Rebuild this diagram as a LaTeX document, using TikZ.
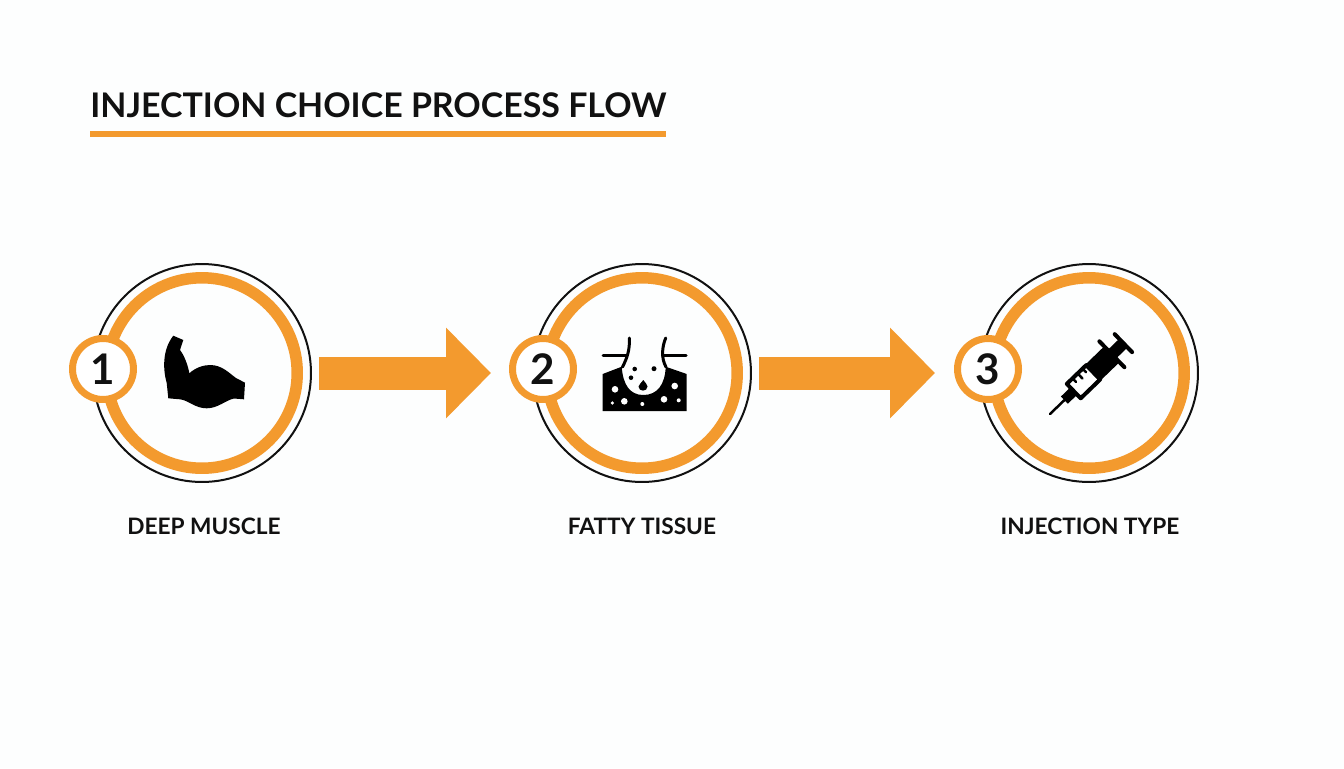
\documentclass[tikz,border=0pt]{standalone}
\usepackage{fontspec}
\setmainfont{Lato}
\usepackage{xcolor}
\usetikzlibrary{arrows.meta}
\usetikzlibrary{positioning}
\definecolor{flowor}{HTML}{F39A2E}
\definecolor{ink}{HTML}{111111}
\tikzset{
  outerring/.style={circle,draw=ink,line width=0.04cm,minimum size=4.36cm,inner sep=0pt},
  bandring/.style={circle,draw=flowor,line width=0.23cm,minimum size=3.81cm,inner sep=0pt},
  badge/.style={circle,draw=flowor,fill=white,line width=0.14cm,minimum size=1.22cm,inner sep=0pt,text=ink,font=\fontsize{24}{24}\selectfont\bfseries},
  caption/.style={text=ink,font=\fontsize{12.9}{13}\selectfont\bfseries},
  flowarrow/.style={draw=flowor,line width=0.66cm,line cap=butt,-{Triangle[length=0.9cm,width=1.76cm,fill=flowor]}},
  icon/.style={fill=black,draw=none},
  hair/.style={draw=black,line width=0.06cm,line cap=round}
}
\begin{document}
\begin{tikzpicture}[line cap=round,line join=round,x=0.02cm,y=-0.02cm]
\useasboundingbox (0,0) rectangle (1344,768);
\fill[color={rgb,255:red,253;green,254;blue,254}] (0,0) rectangle (1344,768);
% title
\node[anchor=west,inner sep=0pt,text=ink,font=\fontsize{19.3}{20}\selectfont\bfseries] (title) at (90,105) {INJECTION CHOICE PROCESS FLOW};
\fill[color=flowor] (90,130.5) rectangle (665.5,136.5);
% circles
\node[outerring] (ringa) at (202,373) {};
\node[outerring] (ringb) at (642,373) {};
\node[outerring] (ringc) at (1089,373) {};
\node[bandring] (banda) at (202,373) {};
\node[bandring] (bandb) at (642,373) {};
\node[bandring] (bandc) at (1089,373) {};
\node[badge] (numa) at (103,369) {1};
\node[badge] (numb) at (543,369) {2};
\node[badge] (numc) at (988,369) {3};
% arrows
\draw[flowarrow,yshift=-0.02cm,shorten <=0.14cm,shorten >=0.36cm] (ringa.east) -- (ringa.east -| numb.west);
\draw[flowarrow,yshift=-0.02cm,shorten <=0.14cm,shorten >=0.38cm] (ringb.east) -- (ringb.east -| numc.west);
% captions
\node[caption] (capa) at (204,526) {DEEP MUSCLE};
\node[caption] (capb) at (642,526) {FATTY TISSUE};
\node[caption] (capc) at (1090,526) {INJECTION TYPE};
% muscle
\fill[icon] (173.3,335.7) -- (183.3,340) -- (180,350) .. controls (184,355) and (188,365) .. (189.3,373.3)
  .. controls (195,368) and (203,365) .. (210,365) .. controls (222,365) and (229,373) .. (236,378)
  -- (245,382.7) -- (244,399.3) -- (234,398.5) .. controls (226,400) and (218,408.3) .. (206.7,408.3)
  .. controls (195,408.3) and (188,400) .. (180,399.3) -- (168.3,398.3) -- (166.7,383)
  .. controls (163,370) and (162,350) .. cycle;
% fatty tissue
\fill[icon] (602.7,374) -- (621.7,366.7) .. controls (623,385) and (630,395) .. (643.3,395)
  .. controls (657,395) and (665,385) .. (665.7,366.7) -- (686.7,374) -- (686.7,411) -- (602.7,411) -- cycle;
\draw[hair] (629.3,338) .. controls (630,350) and (627,358) .. (622.5,367);
\draw[hair] (665.7,338) .. controls (662,347) and (661,358) .. (666,367);
\draw[hair] (603,355) -- (626,355);
\draw[hair] (664,355) -- (686,355);
\foreach \px/\py/\rad in {615/389.3/3.3,624.3/401.3/3.3,612.3/403/1.8,642.3/404/2,664/399.3/3.3,674.7/386/3.3,678.7/400.3/2}
  \fill[white] (\px,\py) circle[radius=\rad];
\foreach \px/\py/\rad in {634.7/369/2.3,654/368.7/2.5,631/377.7/2.3}
  \fill[black] (\px,\py) circle[radius=\rad];
\fill[icon] (643.3,380) .. controls (645,383) and (647.5,384) .. (647.5,386.5) .. controls (647.5,392) and (638.5,392) .. (638.5,386.5) .. controls (638.5,384) and (642,383) .. cycle;
% syringe
\begin{scope}[shift={(1050,414)},rotate=44]
\draw[black,line width=0.05cm] (0,0) -- (22,0);
\fill[icon] (20,-5) rectangle (33,5);
\draw[black,line width=0.08cm,fill=white] (33,-10) rectangle (60,10);
\fill[icon] (60,-11) rectangle (86,11);
\draw[black,line width=0.08cm] (86,-18) -- (86,18);
\fill[icon] (86,-6) rectangle (102,6);
\draw[black,line width=0.08cm] (102,-12.5) -- (102,12.5);
\draw[black,line width=0.05cm] (41,-10) -- (41,-5);
\draw[black,line width=0.05cm] (48,-10) -- (48,-3);
\draw[black,line width=0.05cm] (55,-10) -- (55,-5);
\end{scope}
\end{tikzpicture}
\end{document}
